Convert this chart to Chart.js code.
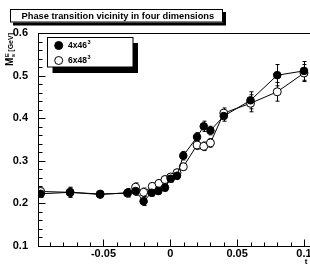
<!DOCTYPE html>
<html>
<head>
<meta charset="utf-8">
<script src="https://cdn.jsdelivr.net/npm/chart.js@4.4.1/dist/chart.umd.min.js"></script>
<style>
html, body { margin: 0; padding: 0; background: #fff; }
#wrap { width: 310px; height: 266px; }
</style>
</head>
<body>
<div id="wrap"><canvas id="c" width="310" height="266"></canvas></div>
<script>
// 4x46^3 (filled circles)
const X_4x46 = [-0.097, -0.075, -0.0525, -0.032, -0.026, -0.02, -0.014, -0.009, -0.004, 0.0003, 0.005, 0.0097, 0.02, 0.025, 0.03, 0.04, 0.06, 0.08, 0.1];
const Y_4x46 = [0.2225, 0.226, 0.221, 0.225, 0.229, 0.205, 0.225, 0.229, 0.237, 0.258, 0.265, 0.312, 0.356, 0.381, 0.371, 0.405, 0.442, 0.501, 0.511];
const E_4x46 = [0.008, 0.012, 0.008, 0.01, 0.01, 0.01, 0.008, 0.008, 0.008, 0.008, 0.008, 0.01, 0.01, 0.012, 0.01, 0.012, 0.02, 0.025, 0.022];

// 6x48^3 (open circles)
const X_6x48 = [-0.097, -0.075, -0.0525, -0.032, -0.026, -0.02, -0.0135, -0.0085, -0.004, 0.0003, 0.005, 0.0097, 0.02, 0.025, 0.03, 0.04, 0.06, 0.08, 0.1];
const Y_6x48 = [0.228, 0.226, 0.222, 0.224, 0.238, 0.226, 0.24, 0.247, 0.256, 0.262, 0.272, 0.286, 0.337, 0.334, 0.342, 0.412, 0.435, 0.462, 0.506];
const E_6x48 = [0.008, 0.01, 0.008, 0.008, 0.01, 0.01, 0.008, 0.008, 0.008, 0.008, 0.008, 0.008, 0.01, 0.01, 0.01, 0.012, 0.02, 0.022, 0.02];

const X_TICKS = [-0.05, 0, 0.05, 0.1];
const X_TICK_LABELS = ['-0.05', '0', '0.05', '0.1'];
const Y_TICKS = [0.1, 0.2, 0.3, 0.4, 0.5, 0.6];
const X_MINOR = 0.01;
const Y_MINOR = 0.02;

const TITLE = 'Phase transition vicinity in four dimensions';
const SERIES_NAMES = ['4x46', '6x48'];
const FONT = "'Liberation Sans', Arial, sans-serif";

function toPoints(xs, ys) {
  return xs.map((x, i) => ({ x: x, y: ys[i] }));
}

function fixTicks(vals) {
  return function (scale) {
    scale.ticks = vals.map(v => ({ value: v }));
  };
}

const errorBars = {
  id: 'errorBars',
  beforeDatasetsDraw(chart) {
    const ctx = chart.ctx;
    const xs = chart.scales.x, ys = chart.scales.y;
    const sets = [[X_4x46, Y_4x46, E_4x46], [X_6x48, Y_6x48, E_6x48]];
    ctx.save();
    ctx.strokeStyle = '#000';
    ctx.lineWidth = 1;
    sets.forEach(([xa, ya, ea]) => {
      xa.forEach((x, i) => {
        const px = Math.round(xs.getPixelForValue(x)) + 0.5;
        const top = ys.getPixelForValue(ya[i] + ea[i]);
        const bot = ys.getPixelForValue(ya[i] - ea[i]);
        ctx.beginPath();
        ctx.moveTo(px, top); ctx.lineTo(px, bot);
        ctx.moveTo(px - 2, top); ctx.lineTo(px + 2, top);
        ctx.moveTo(px - 2, bot); ctx.lineTo(px + 2, bot);
        ctx.stroke();
      });
    });
    ctx.restore();
  }
};

const frame = {
  id: 'frame',
  afterDraw(chart) {
    const ctx = chart.ctx;
    const a = chart.chartArea;
    const xs = chart.scales.x, ys = chart.scales.y;
    ctx.save();
    ctx.strokeStyle = '#000';
    ctx.lineWidth = 1;
    ctx.strokeRect(Math.round(a.left) + 0.5, Math.round(a.top) + 0.5, a.right - a.left, a.bottom - a.top);

    // inward ticks
    ctx.beginPath();
    const x0 = Math.round(a.left) + 0.5, yb = Math.round(a.bottom) + 0.5;
    for (let k = Math.ceil(ys.min / Y_MINOR - 1e-6); k * Y_MINOR <= ys.max + 1e-9; k++) {
      const v = k * Y_MINOR;
      const major = Math.abs(v * 10 - Math.round(v * 10)) < 1e-6;
      const py = Math.round(ys.getPixelForValue(v)) + 0.5;
      ctx.moveTo(x0, py); ctx.lineTo(x0 + (major ? 7 : 4), py);
    }
    for (let k = Math.ceil(xs.min / X_MINOR - 1e-6); k * X_MINOR <= xs.max + 1e-9; k++) {
      const v = k * X_MINOR;
      const major = k % 5 === 0;
      const px = Math.round(xs.getPixelForValue(v)) + 0.5;
      ctx.moveTo(px, yb); ctx.lineTo(px, yb - (major ? 7 : 4));
    }
    ctx.stroke();

    // x tick labels at the scale's positions
    ctx.fillStyle = '#000';
    ctx.font = 'bold 11px ' + FONT;
    ctx.textAlign = 'center';
    ctx.textBaseline = 'top';
    X_TICKS.forEach((v, i) => {
      ctx.fillText(X_TICK_LABELS[i], xs.getPixelForValue(v), yb + 1.5);
    });

    // title box with shadow
    ctx.fillStyle = '#000';
    ctx.fillRect(13, 12, 213, 13.5);
    ctx.fillStyle = '#fff';
    ctx.fillRect(10, 9, 213, 13.5);
    ctx.strokeRect(10.5, 9.5, 212, 12.5);
    ctx.fillStyle = '#000';
    ctx.font = 'bold 9.3px ' + FONT;
    ctx.textBaseline = 'middle';
    ctx.textAlign = 'left';
    ctx.fillText(TITLE, 21.5, 16);

    // legend box with shadow
    ctx.fillRect(52.5, 43, 85.5, 30);
    ctx.fillStyle = '#fff';
    ctx.fillRect(47.5, 37.5, 85.5, 29.5);
    ctx.strokeRect(47.5, 37.5, 85.5, 29.5);
    const entries = [[45.5, true], [60.5, false]];
    entries.forEach(([cy, filled], i) => {
      ctx.beginPath();
      ctx.arc(58.7, cy, 4, 0, Math.PI * 2);
      ctx.fillStyle = filled ? '#000' : '#fff';
      ctx.fill();
      ctx.strokeStyle = '#000';
      ctx.stroke();
      ctx.fillStyle = '#000';
      ctx.font = 'bold 8.5px ' + FONT;
      ctx.textBaseline = 'middle';
      ctx.fillText(SERIES_NAMES[i], 68, cy + 0.5);
      const w = ctx.measureText(SERIES_NAMES[i]).width;
      ctx.font = 'bold 5.5px ' + FONT;
      ctx.fillText('3', 68 + w + 0.5, cy - 3);
    });

    // y axis title, rotated, right-aligned to top of axis
    ctx.save();
    ctx.translate(13, 33);
    ctx.rotate(-Math.PI / 2);
    ctx.textBaseline = 'alphabetic';
    ctx.textAlign = 'left';
    const fM = 'bold 10px ' + FONT, fS = 'bold 6px ' + FONT, fG = 'bold 7px ' + FONT;
    ctx.font = fM; const wM = ctx.measureText('M').width;
    ctx.font = fS; const wS = ctx.measureText('E').width;
    ctx.font = fG; const wG = ctx.measureText(' [GeV]').width;
    let tx = -(wM + wS + wG);
    ctx.font = fM; ctx.fillText('M', tx, 0); tx += wM;
    ctx.font = fS; ctx.fillText('E', tx + 0.3, -4.5); ctx.fillText('s', tx + 0.3, 2);
    tx += wS;
    ctx.font = fG; ctx.fillText(' [GeV]', tx, -0.5);
    ctx.restore();

    // x axis title
    ctx.font = 'bold 8px ' + FONT;
    ctx.textAlign = 'center';
    ctx.textBaseline = 'middle';
    ctx.fillText('t', 306, 262);
    ctx.restore();
  }
};

new Chart(document.getElementById('c'), {
  type: 'scatter',
  data: {
    datasets: [
      {
        label: SERIES_NAMES[0],
        data: toPoints(X_4x46, Y_4x46),
        showLine: true,
        borderColor: '#000',
        borderWidth: 1,
        backgroundColor: '#000',
        pointBackgroundColor: '#000',
        pointBorderColor: '#000',
        pointBorderWidth: 1,
        pointRadius: 3.8,
        pointHoverRadius: 3.8
      },
      {
        label: SERIES_NAMES[1],
        data: toPoints(X_6x48, Y_6x48),
        showLine: true,
        borderColor: '#000',
        borderWidth: 1,
        backgroundColor: '#fff',
        pointBackgroundColor: '#fff',
        pointBorderColor: '#000',
        pointBorderWidth: 1,
        pointRadius: 4,
        pointHoverRadius: 4
      }
    ]
  },
  options: {
    responsive: false,
    animation: false,
    devicePixelRatio: 1,
    layout: { autoPadding: false, padding: { top: 33, left: 0, right: 0, bottom: 0 } },
    plugins: { legend: { display: false }, tooltip: { enabled: false } },
    scales: {
      x: {
        type: 'linear',
        min: -0.099,
        max: 0.1045,
        afterBuildTicks: fixTicks(X_TICKS),
        afterFit(s) { s.height = 20; },
        grid: { display: false },
        border: { display: false },
        ticks: { display: false }
      },
      y: {
        type: 'linear',
        min: 0.1,
        max: 0.6,
        afterBuildTicks: fixTicks(Y_TICKS),
        afterFit(s) { s.width = 38; },
        grid: { display: false },
        border: { display: false },
        ticks: {
          padding: 2,
          color: '#000',
          font: { family: FONT, size: 11, weight: 'bold' },
          callback: v => v.toFixed(1)
        }
      }
    }
  },
  plugins: [errorBars, frame]
});
</script>
</body>
</html>
